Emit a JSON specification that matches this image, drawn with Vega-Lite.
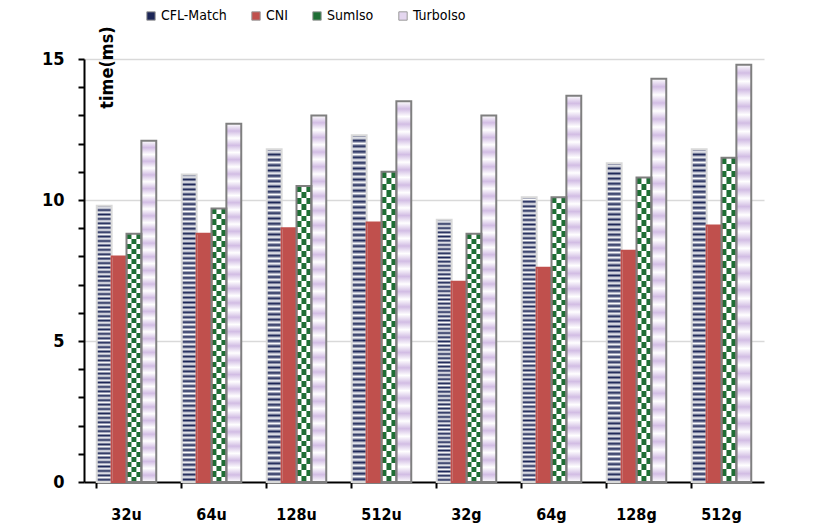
{
  "$schema": "https://vega.github.io/schema/vega-lite/v6.json",
  "width": 680,
  "height": 423,
  "autosize": {"type": "none"},
  "padding": {"left": 84, "top": 59, "right": 64, "bottom": 49},
  "background": "white",
  "data": {"values": [
    {"g": "32u", "s": "CFL-Match", "v": 9.8}, {"g": "32u", "s": "CNI", "v": 8.0}, {"g": "32u", "s": "SumIso", "v": 8.8}, {"g": "32u", "s": "TurboIso", "v": 12.1},
    {"g": "64u", "s": "CFL-Match", "v": 10.9}, {"g": "64u", "s": "CNI", "v": 8.8}, {"g": "64u", "s": "SumIso", "v": 9.7}, {"g": "64u", "s": "TurboIso", "v": 12.7},
    {"g": "128u", "s": "CFL-Match", "v": 11.8}, {"g": "128u", "s": "CNI", "v": 9.0}, {"g": "128u", "s": "SumIso", "v": 10.5}, {"g": "128u", "s": "TurboIso", "v": 13.0},
    {"g": "512u", "s": "CFL-Match", "v": 12.3}, {"g": "512u", "s": "CNI", "v": 9.2}, {"g": "512u", "s": "SumIso", "v": 11.0}, {"g": "512u", "s": "TurboIso", "v": 13.5},
    {"g": "32g", "s": "CFL-Match", "v": 9.3}, {"g": "32g", "s": "CNI", "v": 7.1}, {"g": "32g", "s": "SumIso", "v": 8.8}, {"g": "32g", "s": "TurboIso", "v": 13.0},
    {"g": "64g", "s": "CFL-Match", "v": 10.1}, {"g": "64g", "s": "CNI", "v": 7.6}, {"g": "64g", "s": "SumIso", "v": 10.1}, {"g": "64g", "s": "TurboIso", "v": 13.7},
    {"g": "128g", "s": "CFL-Match", "v": 11.3}, {"g": "128g", "s": "CNI", "v": 8.2}, {"g": "128g", "s": "SumIso", "v": 10.8}, {"g": "128g", "s": "TurboIso", "v": 14.3},
    {"g": "512g", "s": "CFL-Match", "v": 11.8}, {"g": "512g", "s": "CNI", "v": 9.1}, {"g": "512g", "s": "SumIso", "v": 11.5}, {"g": "512g", "s": "TurboIso", "v": 14.8}
  ]},
  "encoding": {
    "x": {
      "field": "g", "type": "nominal",
      "scale": {"domain": ["32u", "64u", "128u", "512u", "32g", "64g", "128g", "512g"], "paddingInner": 0.3, "paddingOuter": 0.15},
      "axis": {
        "title": null, "labelAngle": 0, "bandPosition": 0,
        "labelFont": "DejaVu Sans Condensed, Lato", "labelFontSize": 16, "labelFontWeight": "bold", "labelColor": "black",
        "labelPadding": 18,
        "domainColor": "black", "domainWidth": 2, "tickColor": "black", "tickWidth": 2, "tickSize": 6,
        "grid": false
      }
    },
    "xOffset": {"field": "s", "type": "nominal", "scale": {"domain": ["CFL-Match", "CNI", "SumIso", "TurboIso"]}},
    "y": {
      "field": "v", "type": "quantitative",
      "scale": {"domain": [0, 15], "nice": false},
      "axis": {
        "title": "time(ms)", "titleAngle": -90, "titleX": 23, "titleY": 8, "titleAlign": "center", "titleBaseline": "middle",
        "titleFont": "DejaVu Sans Condensed, Lato", "titleFontSize": 18, "titleFontWeight": "bold", "titleColor": "black",
        "values": [0, 1, 2, 3, 4, 5, 6, 7, 8, 9, 10, 11, 12, 13, 14, 15],
        "labelExpr": "datum.value % 5 === 0 ? datum.label : ''",
        "labelFont": "DejaVu Sans Condensed, Lato", "labelFontSize": 18, "labelFontWeight": "bold", "labelColor": "black", "labelPadding": 14,
        "domainColor": "black", "domainWidth": 2, "tickColor": "black", "tickWidth": 2, "tickSize": 6,
        "grid": true, "gridWidth": 1.5,
        "gridColor": {"condition": {"test": "datum.value % 5 === 0 && datum.value > 0", "value": "#d9d9d9"}, "value": "rgba(0,0,0,0)"}
      }
    }
  },
  "resolve": {"scale": {"xOffset": "independent"}},
  "layer": [
    {
      "mark": {"type": "bar"},
      "encoding": {
        "color": {
          "field": "s", "type": "nominal", "sort": ["CFL-Match", "CNI", "SumIso", "TurboIso"],
          "scale": {"range": ["#1C2657", "#C0504D", "#1E6E34", "#E4D6EF"]},
          "legend": {
            "title": null, "orient": "none", "legendX": 60, "legendY": -50, "direction": "horizontal",
            "symbolType": "square", "symbolSize": 70, "symbolStrokeColor": "#999999", "symbolStrokeWidth": 1,
            "labelFont": "DejaVu Sans Condensed, Lato", "labelFontSize": 14, "labelColor": "black", "columnPadding": 22, "labelOffset": 3
          }
        }
      }
    },
    {
      "transform": [{"filter": "datum.s === 'CFL-Match'"}],
      "mark": {"type": "bar", "fill": {"gradient": "linear", "x1": 0, "y1": 0, "x2": 0, "y2": 1, "stops": [
        {"offset": 0, "color": "#1C2657"}, {"offset": 0.008, "color": "#ffffff"}, {"offset": 0.016, "color": "#1C2657"}, {"offset": 0.024, "color": "#ffffff"},
        {"offset": 0.032, "color": "#1C2657"}, {"offset": 0.04, "color": "#ffffff"}, {"offset": 0.048, "color": "#1C2657"}, {"offset": 0.056, "color": "#ffffff"},
        {"offset": 0.064, "color": "#1C2657"}, {"offset": 0.072, "color": "#ffffff"}, {"offset": 0.08, "color": "#1C2657"}, {"offset": 0.088, "color": "#ffffff"},
        {"offset": 0.096, "color": "#1C2657"}, {"offset": 0.104, "color": "#ffffff"}, {"offset": 0.112, "color": "#1C2657"}, {"offset": 0.12, "color": "#ffffff"},
        {"offset": 0.128, "color": "#1C2657"}, {"offset": 0.136, "color": "#ffffff"}, {"offset": 0.144, "color": "#1C2657"}, {"offset": 0.152, "color": "#ffffff"},
        {"offset": 0.16, "color": "#1C2657"}, {"offset": 0.168, "color": "#ffffff"}, {"offset": 0.176, "color": "#1C2657"}, {"offset": 0.184, "color": "#ffffff"},
        {"offset": 0.192, "color": "#1C2657"}, {"offset": 0.2, "color": "#ffffff"}, {"offset": 0.208, "color": "#1C2657"}, {"offset": 0.216, "color": "#ffffff"},
        {"offset": 0.224, "color": "#1C2657"}, {"offset": 0.232, "color": "#ffffff"}, {"offset": 0.24, "color": "#1C2657"}, {"offset": 0.248, "color": "#ffffff"},
        {"offset": 0.256, "color": "#1C2657"}, {"offset": 0.264, "color": "#ffffff"}, {"offset": 0.272, "color": "#1C2657"}, {"offset": 0.28, "color": "#ffffff"},
        {"offset": 0.288, "color": "#1C2657"}, {"offset": 0.296, "color": "#ffffff"}, {"offset": 0.304, "color": "#1C2657"}, {"offset": 0.312, "color": "#ffffff"},
        {"offset": 0.32, "color": "#1C2657"}, {"offset": 0.328, "color": "#ffffff"}, {"offset": 0.336, "color": "#1C2657"}, {"offset": 0.344, "color": "#ffffff"},
        {"offset": 0.352, "color": "#1C2657"}, {"offset": 0.36, "color": "#ffffff"}, {"offset": 0.368, "color": "#1C2657"}, {"offset": 0.376, "color": "#ffffff"},
        {"offset": 0.384, "color": "#1C2657"}, {"offset": 0.392, "color": "#ffffff"}, {"offset": 0.4, "color": "#1C2657"}, {"offset": 0.408, "color": "#ffffff"},
        {"offset": 0.416, "color": "#1C2657"}, {"offset": 0.424, "color": "#ffffff"}, {"offset": 0.432, "color": "#1C2657"}, {"offset": 0.44, "color": "#ffffff"},
        {"offset": 0.448, "color": "#1C2657"}, {"offset": 0.456, "color": "#ffffff"}, {"offset": 0.464, "color": "#1C2657"}, {"offset": 0.472, "color": "#ffffff"},
        {"offset": 0.48, "color": "#1C2657"}, {"offset": 0.488, "color": "#ffffff"}, {"offset": 0.496, "color": "#1C2657"}, {"offset": 0.504, "color": "#ffffff"},
        {"offset": 0.512, "color": "#1C2657"}, {"offset": 0.52, "color": "#ffffff"}, {"offset": 0.528, "color": "#1C2657"}, {"offset": 0.536, "color": "#ffffff"},
        {"offset": 0.544, "color": "#1C2657"}, {"offset": 0.552, "color": "#ffffff"}, {"offset": 0.56, "color": "#1C2657"}, {"offset": 0.568, "color": "#ffffff"},
        {"offset": 0.576, "color": "#1C2657"}, {"offset": 0.584, "color": "#ffffff"}, {"offset": 0.592, "color": "#1C2657"}, {"offset": 0.6, "color": "#ffffff"},
        {"offset": 0.608, "color": "#1C2657"}, {"offset": 0.616, "color": "#ffffff"}, {"offset": 0.624, "color": "#1C2657"}, {"offset": 0.632, "color": "#ffffff"},
        {"offset": 0.64, "color": "#1C2657"}, {"offset": 0.648, "color": "#ffffff"}, {"offset": 0.656, "color": "#1C2657"}, {"offset": 0.664, "color": "#ffffff"},
        {"offset": 0.672, "color": "#1C2657"}, {"offset": 0.68, "color": "#ffffff"}, {"offset": 0.688, "color": "#1C2657"}, {"offset": 0.696, "color": "#ffffff"},
        {"offset": 0.704, "color": "#1C2657"}, {"offset": 0.712, "color": "#ffffff"}, {"offset": 0.72, "color": "#1C2657"}, {"offset": 0.728, "color": "#ffffff"},
        {"offset": 0.736, "color": "#1C2657"}, {"offset": 0.744, "color": "#ffffff"}, {"offset": 0.752, "color": "#1C2657"}, {"offset": 0.76, "color": "#ffffff"},
        {"offset": 0.768, "color": "#1C2657"}, {"offset": 0.776, "color": "#ffffff"}, {"offset": 0.784, "color": "#1C2657"}, {"offset": 0.792, "color": "#ffffff"},
        {"offset": 0.8, "color": "#1C2657"}, {"offset": 0.808, "color": "#ffffff"}, {"offset": 0.816, "color": "#1C2657"}, {"offset": 0.824, "color": "#ffffff"},
        {"offset": 0.832, "color": "#1C2657"}, {"offset": 0.84, "color": "#ffffff"}, {"offset": 0.848, "color": "#1C2657"}, {"offset": 0.856, "color": "#ffffff"},
        {"offset": 0.864, "color": "#1C2657"}, {"offset": 0.872, "color": "#ffffff"}, {"offset": 0.88, "color": "#1C2657"}, {"offset": 0.888, "color": "#ffffff"},
        {"offset": 0.896, "color": "#1C2657"}, {"offset": 0.904, "color": "#ffffff"}, {"offset": 0.912, "color": "#1C2657"}, {"offset": 0.92, "color": "#ffffff"},
        {"offset": 0.928, "color": "#1C2657"}, {"offset": 0.936, "color": "#ffffff"}, {"offset": 0.944, "color": "#1C2657"}, {"offset": 0.952, "color": "#ffffff"},
        {"offset": 0.96, "color": "#1C2657"}, {"offset": 0.968, "color": "#ffffff"}, {"offset": 0.976, "color": "#1C2657"}, {"offset": 0.984, "color": "#ffffff"},
        {"offset": 0.992, "color": "#1C2657"}, {"offset": 1, "color": "#ffffff"}
      ]}}
    },
    {
      "transform": [{"filter": "datum.s === 'SumIso'"}],
      "mark": {"type": "bar", "fill": {"gradient": "linear", "x1": 0, "y1": 0, "x2": 0, "y2": 1, "stops": [
        {"offset": 0, "color": "#1E6E34"}, {"offset": 0.02, "color": "#1E6E34"}, {"offset": 0.02, "color": "#ffffff"}, {"offset": 0.04, "color": "#ffffff"},
        {"offset": 0.04, "color": "#1E6E34"}, {"offset": 0.06, "color": "#1E6E34"}, {"offset": 0.06, "color": "#ffffff"}, {"offset": 0.08, "color": "#ffffff"},
        {"offset": 0.08, "color": "#1E6E34"}, {"offset": 0.1, "color": "#1E6E34"}, {"offset": 0.1, "color": "#ffffff"}, {"offset": 0.12, "color": "#ffffff"},
        {"offset": 0.12, "color": "#1E6E34"}, {"offset": 0.14, "color": "#1E6E34"}, {"offset": 0.14, "color": "#ffffff"}, {"offset": 0.16, "color": "#ffffff"},
        {"offset": 0.16, "color": "#1E6E34"}, {"offset": 0.18, "color": "#1E6E34"}, {"offset": 0.18, "color": "#ffffff"}, {"offset": 0.2, "color": "#ffffff"},
        {"offset": 0.2, "color": "#1E6E34"}, {"offset": 0.22, "color": "#1E6E34"}, {"offset": 0.22, "color": "#ffffff"}, {"offset": 0.24, "color": "#ffffff"},
        {"offset": 0.24, "color": "#1E6E34"}, {"offset": 0.26, "color": "#1E6E34"}, {"offset": 0.26, "color": "#ffffff"}, {"offset": 0.28, "color": "#ffffff"},
        {"offset": 0.28, "color": "#1E6E34"}, {"offset": 0.3, "color": "#1E6E34"}, {"offset": 0.3, "color": "#ffffff"}, {"offset": 0.32, "color": "#ffffff"},
        {"offset": 0.32, "color": "#1E6E34"}, {"offset": 0.34, "color": "#1E6E34"}, {"offset": 0.34, "color": "#ffffff"}, {"offset": 0.36, "color": "#ffffff"},
        {"offset": 0.36, "color": "#1E6E34"}, {"offset": 0.38, "color": "#1E6E34"}, {"offset": 0.38, "color": "#ffffff"}, {"offset": 0.4, "color": "#ffffff"},
        {"offset": 0.4, "color": "#1E6E34"}, {"offset": 0.42, "color": "#1E6E34"}, {"offset": 0.42, "color": "#ffffff"}, {"offset": 0.44, "color": "#ffffff"},
        {"offset": 0.44, "color": "#1E6E34"}, {"offset": 0.46, "color": "#1E6E34"}, {"offset": 0.46, "color": "#ffffff"}, {"offset": 0.48, "color": "#ffffff"},
        {"offset": 0.48, "color": "#1E6E34"}, {"offset": 0.5, "color": "#1E6E34"}, {"offset": 0.5, "color": "#ffffff"}, {"offset": 0.52, "color": "#ffffff"},
        {"offset": 0.52, "color": "#1E6E34"}, {"offset": 0.54, "color": "#1E6E34"}, {"offset": 0.54, "color": "#ffffff"}, {"offset": 0.56, "color": "#ffffff"},
        {"offset": 0.56, "color": "#1E6E34"}, {"offset": 0.58, "color": "#1E6E34"}, {"offset": 0.58, "color": "#ffffff"}, {"offset": 0.6, "color": "#ffffff"},
        {"offset": 0.6, "color": "#1E6E34"}, {"offset": 0.62, "color": "#1E6E34"}, {"offset": 0.62, "color": "#ffffff"}, {"offset": 0.64, "color": "#ffffff"},
        {"offset": 0.64, "color": "#1E6E34"}, {"offset": 0.66, "color": "#1E6E34"}, {"offset": 0.66, "color": "#ffffff"}, {"offset": 0.68, "color": "#ffffff"},
        {"offset": 0.68, "color": "#1E6E34"}, {"offset": 0.7, "color": "#1E6E34"}, {"offset": 0.7, "color": "#ffffff"}, {"offset": 0.72, "color": "#ffffff"},
        {"offset": 0.72, "color": "#1E6E34"}, {"offset": 0.74, "color": "#1E6E34"}, {"offset": 0.74, "color": "#ffffff"}, {"offset": 0.76, "color": "#ffffff"},
        {"offset": 0.76, "color": "#1E6E34"}, {"offset": 0.78, "color": "#1E6E34"}, {"offset": 0.78, "color": "#ffffff"}, {"offset": 0.8, "color": "#ffffff"},
        {"offset": 0.8, "color": "#1E6E34"}, {"offset": 0.82, "color": "#1E6E34"}, {"offset": 0.82, "color": "#ffffff"}, {"offset": 0.84, "color": "#ffffff"},
        {"offset": 0.84, "color": "#1E6E34"}, {"offset": 0.86, "color": "#1E6E34"}, {"offset": 0.86, "color": "#ffffff"}, {"offset": 0.88, "color": "#ffffff"},
        {"offset": 0.88, "color": "#1E6E34"}, {"offset": 0.9, "color": "#1E6E34"}, {"offset": 0.9, "color": "#ffffff"}, {"offset": 0.92, "color": "#ffffff"},
        {"offset": 0.92, "color": "#1E6E34"}, {"offset": 0.94, "color": "#1E6E34"}, {"offset": 0.94, "color": "#ffffff"}, {"offset": 0.96, "color": "#ffffff"},
        {"offset": 0.96, "color": "#1E6E34"}, {"offset": 0.98, "color": "#1E6E34"}, {"offset": 0.98, "color": "#ffffff"}, {"offset": 1, "color": "#ffffff"}
      ]}}
    },
    {
      "transform": [{"filter": "datum.s === 'SumIso'"}],
      "encoding": {
        "xOffset": {"field": "s", "type": "nominal", "scale": {"domain": ["p0", "p1", "p2", "p3", "p4", "p5", "p6", "SumIso", "p8", "p9", "p10", "p11"]}}
      },
      "mark": {"type": "bar", "fill": {"gradient": "linear", "x1": 0, "y1": 0, "x2": 0, "y2": 1, "stops": [
        {"offset": 0, "color": "#ffffff"}, {"offset": 0.02, "color": "#ffffff"}, {"offset": 0.02, "color": "#1E6E34"}, {"offset": 0.04, "color": "#1E6E34"},
        {"offset": 0.04, "color": "#ffffff"}, {"offset": 0.06, "color": "#ffffff"}, {"offset": 0.06, "color": "#1E6E34"}, {"offset": 0.08, "color": "#1E6E34"},
        {"offset": 0.08, "color": "#ffffff"}, {"offset": 0.1, "color": "#ffffff"}, {"offset": 0.1, "color": "#1E6E34"}, {"offset": 0.12, "color": "#1E6E34"},
        {"offset": 0.12, "color": "#ffffff"}, {"offset": 0.14, "color": "#ffffff"}, {"offset": 0.14, "color": "#1E6E34"}, {"offset": 0.16, "color": "#1E6E34"},
        {"offset": 0.16, "color": "#ffffff"}, {"offset": 0.18, "color": "#ffffff"}, {"offset": 0.18, "color": "#1E6E34"}, {"offset": 0.2, "color": "#1E6E34"},
        {"offset": 0.2, "color": "#ffffff"}, {"offset": 0.22, "color": "#ffffff"}, {"offset": 0.22, "color": "#1E6E34"}, {"offset": 0.24, "color": "#1E6E34"},
        {"offset": 0.24, "color": "#ffffff"}, {"offset": 0.26, "color": "#ffffff"}, {"offset": 0.26, "color": "#1E6E34"}, {"offset": 0.28, "color": "#1E6E34"},
        {"offset": 0.28, "color": "#ffffff"}, {"offset": 0.3, "color": "#ffffff"}, {"offset": 0.3, "color": "#1E6E34"}, {"offset": 0.32, "color": "#1E6E34"},
        {"offset": 0.32, "color": "#ffffff"}, {"offset": 0.34, "color": "#ffffff"}, {"offset": 0.34, "color": "#1E6E34"}, {"offset": 0.36, "color": "#1E6E34"},
        {"offset": 0.36, "color": "#ffffff"}, {"offset": 0.38, "color": "#ffffff"}, {"offset": 0.38, "color": "#1E6E34"}, {"offset": 0.4, "color": "#1E6E34"},
        {"offset": 0.4, "color": "#ffffff"}, {"offset": 0.42, "color": "#ffffff"}, {"offset": 0.42, "color": "#1E6E34"}, {"offset": 0.44, "color": "#1E6E34"},
        {"offset": 0.44, "color": "#ffffff"}, {"offset": 0.46, "color": "#ffffff"}, {"offset": 0.46, "color": "#1E6E34"}, {"offset": 0.48, "color": "#1E6E34"},
        {"offset": 0.48, "color": "#ffffff"}, {"offset": 0.5, "color": "#ffffff"}, {"offset": 0.5, "color": "#1E6E34"}, {"offset": 0.52, "color": "#1E6E34"},
        {"offset": 0.52, "color": "#ffffff"}, {"offset": 0.54, "color": "#ffffff"}, {"offset": 0.54, "color": "#1E6E34"}, {"offset": 0.56, "color": "#1E6E34"},
        {"offset": 0.56, "color": "#ffffff"}, {"offset": 0.58, "color": "#ffffff"}, {"offset": 0.58, "color": "#1E6E34"}, {"offset": 0.6, "color": "#1E6E34"},
        {"offset": 0.6, "color": "#ffffff"}, {"offset": 0.62, "color": "#ffffff"}, {"offset": 0.62, "color": "#1E6E34"}, {"offset": 0.64, "color": "#1E6E34"},
        {"offset": 0.64, "color": "#ffffff"}, {"offset": 0.66, "color": "#ffffff"}, {"offset": 0.66, "color": "#1E6E34"}, {"offset": 0.68, "color": "#1E6E34"},
        {"offset": 0.68, "color": "#ffffff"}, {"offset": 0.7, "color": "#ffffff"}, {"offset": 0.7, "color": "#1E6E34"}, {"offset": 0.72, "color": "#1E6E34"},
        {"offset": 0.72, "color": "#ffffff"}, {"offset": 0.74, "color": "#ffffff"}, {"offset": 0.74, "color": "#1E6E34"}, {"offset": 0.76, "color": "#1E6E34"},
        {"offset": 0.76, "color": "#ffffff"}, {"offset": 0.78, "color": "#ffffff"}, {"offset": 0.78, "color": "#1E6E34"}, {"offset": 0.8, "color": "#1E6E34"},
        {"offset": 0.8, "color": "#ffffff"}, {"offset": 0.82, "color": "#ffffff"}, {"offset": 0.82, "color": "#1E6E34"}, {"offset": 0.84, "color": "#1E6E34"},
        {"offset": 0.84, "color": "#ffffff"}, {"offset": 0.86, "color": "#ffffff"}, {"offset": 0.86, "color": "#1E6E34"}, {"offset": 0.88, "color": "#1E6E34"},
        {"offset": 0.88, "color": "#ffffff"}, {"offset": 0.9, "color": "#ffffff"}, {"offset": 0.9, "color": "#1E6E34"}, {"offset": 0.92, "color": "#1E6E34"},
        {"offset": 0.92, "color": "#ffffff"}, {"offset": 0.94, "color": "#ffffff"}, {"offset": 0.94, "color": "#1E6E34"}, {"offset": 0.96, "color": "#1E6E34"},
        {"offset": 0.96, "color": "#ffffff"}, {"offset": 0.98, "color": "#ffffff"}, {"offset": 0.98, "color": "#1E6E34"}, {"offset": 1, "color": "#1E6E34"}
      ]}}
    },
    {
      "transform": [{"filter": "datum.s === 'TurboIso'"}],
      "mark": {"type": "bar", "fill": {"gradient": "linear", "x1": 0, "y1": 0, "x2": 0, "y2": 1, "stops": [
        {"offset": 0, "color": "#ffffff"}, {"offset": 0.02, "color": "#D2BDE4"}, {"offset": 0.04, "color": "#ffffff"}, {"offset": 0.06, "color": "#D2BDE4"},
        {"offset": 0.08, "color": "#ffffff"}, {"offset": 0.1, "color": "#D2BDE4"}, {"offset": 0.12, "color": "#ffffff"}, {"offset": 0.14, "color": "#D2BDE4"},
        {"offset": 0.16, "color": "#ffffff"}, {"offset": 0.18, "color": "#D2BDE4"}, {"offset": 0.2, "color": "#ffffff"}, {"offset": 0.22, "color": "#D2BDE4"},
        {"offset": 0.24, "color": "#ffffff"}, {"offset": 0.26, "color": "#D2BDE4"}, {"offset": 0.28, "color": "#ffffff"}, {"offset": 0.3, "color": "#D2BDE4"},
        {"offset": 0.32, "color": "#ffffff"}, {"offset": 0.34, "color": "#D2BDE4"}, {"offset": 0.36, "color": "#ffffff"}, {"offset": 0.38, "color": "#D2BDE4"},
        {"offset": 0.4, "color": "#ffffff"}, {"offset": 0.42, "color": "#D2BDE4"}, {"offset": 0.44, "color": "#ffffff"}, {"offset": 0.46, "color": "#D2BDE4"},
        {"offset": 0.48, "color": "#ffffff"}, {"offset": 0.5, "color": "#D2BDE4"}, {"offset": 0.52, "color": "#ffffff"}, {"offset": 0.54, "color": "#D2BDE4"},
        {"offset": 0.56, "color": "#ffffff"}, {"offset": 0.58, "color": "#D2BDE4"}, {"offset": 0.6, "color": "#ffffff"}, {"offset": 0.62, "color": "#D2BDE4"},
        {"offset": 0.64, "color": "#ffffff"}, {"offset": 0.66, "color": "#D2BDE4"}, {"offset": 0.68, "color": "#ffffff"}, {"offset": 0.7, "color": "#D2BDE4"},
        {"offset": 0.72, "color": "#ffffff"}, {"offset": 0.74, "color": "#D2BDE4"}, {"offset": 0.76, "color": "#ffffff"}, {"offset": 0.78, "color": "#D2BDE4"},
        {"offset": 0.8, "color": "#ffffff"}, {"offset": 0.82, "color": "#D2BDE4"}, {"offset": 0.84, "color": "#ffffff"}, {"offset": 0.86, "color": "#D2BDE4"},
        {"offset": 0.88, "color": "#ffffff"}, {"offset": 0.9, "color": "#D2BDE4"}, {"offset": 0.92, "color": "#ffffff"}, {"offset": 0.94, "color": "#D2BDE4"},
        {"offset": 0.96, "color": "#ffffff"}, {"offset": 0.98, "color": "#D2BDE4"}, {"offset": 1, "color": "#ffffff"}
      ]}}
    },
    {
      "mark": {"type": "bar", "fillOpacity": 0, "strokeWidth": 2},
      "encoding": {
        "stroke": {
          "field": "s", "type": "nominal", "sort": ["CFL-Match", "CNI", "SumIso", "TurboIso"],
          "scale": {"range": ["#d9d9d9", "#C0504D", "#7f7f7f", "#7f7f7f"]},
          "legend": null
        }
      }
    }
  ],
  "config": {"view": {"stroke": null}}
}
